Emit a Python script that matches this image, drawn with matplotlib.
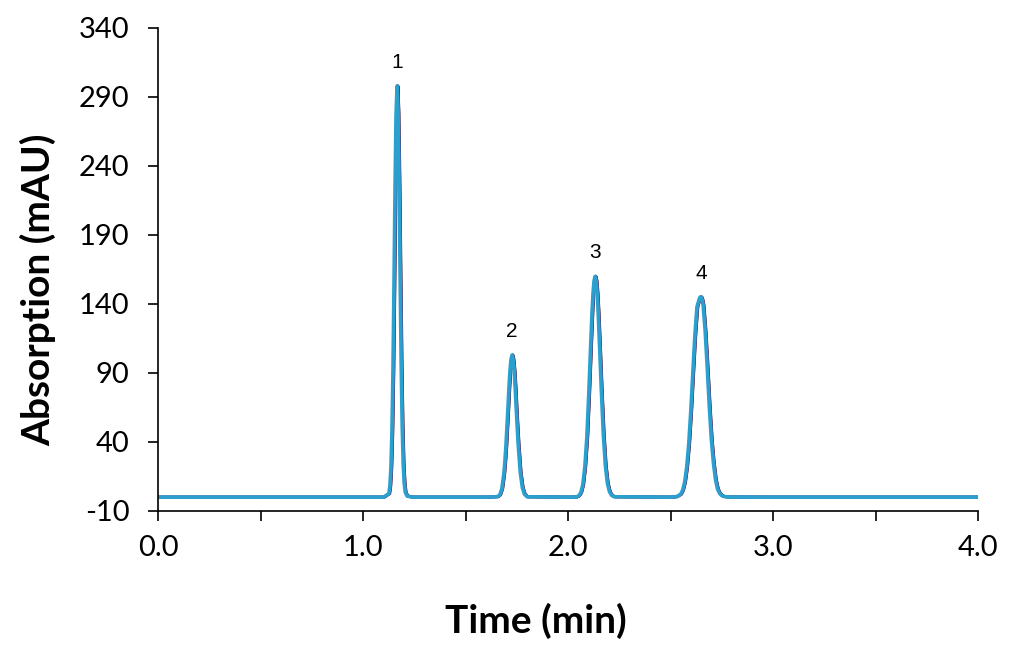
import numpy as np
import matplotlib
matplotlib.use("Agg")
import matplotlib.pyplot as plt
from matplotlib.ticker import MultipleLocator

# ------------------------------------------------------------
# Datos leídos del cromatograma (tiempo en min, absorción en mAU)
# ------------------------------------------------------------
time_min = [
    0.00, 0.50, 1.00, 1.100, 1.126, 1.131, 1.136, 1.141, 1.146, 1.151, 1.156, 1.161,
    1.166, 1.171, 1.176, 1.181, 1.186, 1.191, 1.196, 1.201, 1.206, 1.215, 1.240,
    1.60, 1.657, 1.667, 1.677, 1.687, 1.692, 1.697, 1.702, 1.707, 1.712, 1.717, 1.722,
    1.727, 1.732, 1.737, 1.742, 1.747, 1.752, 1.757, 1.767, 1.777, 1.787, 1.800,
    2.00, 2.042, 2.052, 2.062, 2.072, 2.082, 2.092, 2.102, 2.107, 2.112, 2.117, 2.122,
    2.127, 2.132, 2.137, 2.142, 2.147, 2.152, 2.157, 2.162, 2.172, 2.182, 2.192,
    2.202, 2.212, 2.225,
    2.50, 2.529, 2.549, 2.559, 2.569, 2.579, 2.589, 2.599, 2.609, 2.619, 2.629, 2.639,
    2.644, 2.649, 2.654, 2.659, 2.669, 2.679, 2.689, 2.699, 2.709, 2.719, 2.729,
    2.739, 2.749, 2.760, 2.780, 3.00, 3.50, 4.00,
]
absorbance_mau = [
    0.0, 0.0, 0.0, 0.0, 2.6, 8, 21, 47, 91, 153, 222, 277,
    298, 279, 226, 160, 98, 52, 24, 10, 3.5, 0.8, 0.0,
    0.0, 0.4, 1.7, 6, 17, 26, 37, 51, 65, 80, 92, 100,
    103, 100, 92, 80, 65, 51, 38, 18, 7, 2.2, 0.3,
    0.0, 0.2, 1, 3.2, 9, 22, 44, 78, 97, 116, 134, 148,
    157, 160, 157, 148, 134, 116, 98, 79, 46, 23, 10,
    4, 1.4, 0.3,
    0.0, 0.4, 2.1, 5, 11, 22, 39, 63, 91, 118, 138, 143,
    145, 145, 143, 139, 120, 94, 66, 42, 25, 13, 6,
    2.8, 1.2, 0.5, 0.1, 0.0, 0.0, 0.0,
]

# Desplazamiento del tiempo de retención de cada inyección superpuesta
run_shift_min = [0.004, 0.003, 0.0]
run_colors = ["#1c1c2c", "#6b3d8f", "#2aa0cf"]
run_widths = [2.2, 2.2, 2.6]

# Etiquetas de los picos
peak_labels = ["1", "2", "3", "4"]
peak_times = [1.166, 1.727, 2.132, 2.649]
peak_heights = [298, 103, 160, 145]

y_ticks = [-10, 40, 90, 140, 190, 240, 290, 340]

# ------------------------------------------------------------
# Figura
# ------------------------------------------------------------
plt.rcParams["font.family"] = ["Lato", "DejaVu Sans"]
plt.rcParams["axes.unicode_minus"] = False

fig = plt.figure(figsize=(10.22, 6.45), dpi=100)
ax = fig.add_axes([0.1546, 0.2078, 0.8024, 0.7488])

t = np.array(time_min)
for shift, color, lw in zip(run_shift_min, run_colors, run_widths):
    ax.plot(t + shift, absorbance_mau, color=color, lw=lw, solid_joinstyle="round")

for lab, px, py in zip(peak_labels, peak_times, peak_heights):
    ax.annotate(lab, xy=(px, py), xytext=(0, 10), textcoords="offset points",
                ha="center", va="bottom", fontsize=15, family="Liberation Sans")

ax.set_xlim(0, 4)
ax.set_ylim(-10, 340)
ax.xaxis.set_major_locator(MultipleLocator(1.0))
ax.xaxis.set_minor_locator(MultipleLocator(0.5))
ax.set_yticks(y_ticks)
ax.xaxis.set_major_formatter(plt.FuncFormatter(lambda v, p: f"{v:.1f}"))

for s in ["top", "right"]:
    ax.spines[s].set_visible(False)
for s in ["left", "bottom"]:
    ax.spines[s].set_linewidth(1.2)

ax.tick_params(axis="both", which="both", direction="out", length=7, width=1.2,
               labelsize=21, colors="black")
ax.tick_params(axis="x", which="major", pad=10)
ax.tick_params(axis="y", which="major", pad=13.5)

ax.set_xlabel("Time (min)", fontsize=28, fontweight="bold", va="center")
ax.set_ylabel("Absorption (mAU)", fontsize=28, fontweight="bold", va="center")
ax.xaxis.set_label_coords((536 - 158) / 820, -(621 - 511) / 483)
ax.yaxis.set_label_coords(-(158 - 38) / 820, (511 - 290) / 483)

fig.savefig("out.png", dpi=100)
